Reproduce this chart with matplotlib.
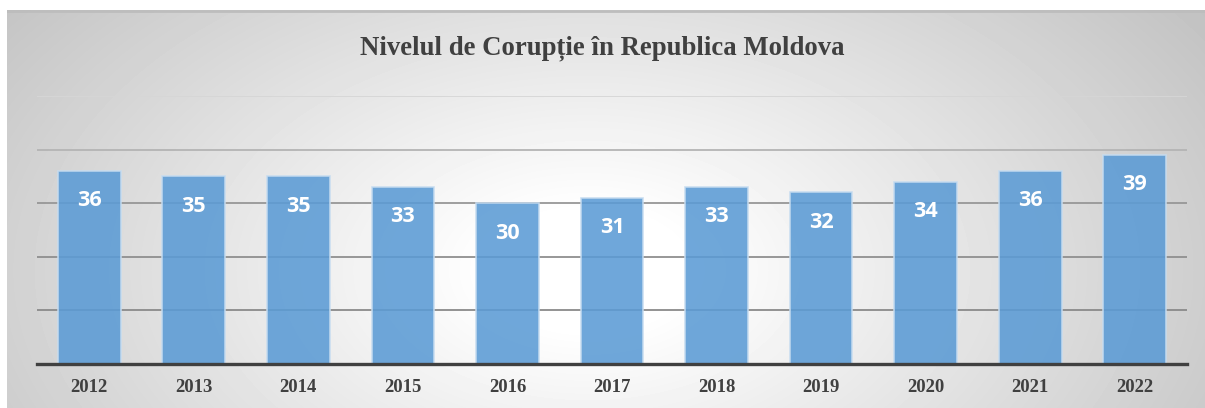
import matplotlib.pyplot as plt
import numpy as np

years = ['2012', '2013', '2014', '2015', '2016', '2017', '2018', '2019', '2020', '2021', '2022']
scores = [36, 35, 35, 33, 30, 31, 33, 32, 34, 36, 39]
title = 'Nivelul de Corupție în Republica Moldova'

W, H = 1205, 408
fig = plt.figure(figsize=(W / 100, H / 100), dpi=100)
fig.patch.set_facecolor('white')

# gray radial gradient panel behind the chart
bg = fig.add_axes([7 / W, 0, 1 - 7 / W, (H - 10) / H], zorder=0)
yy, xx = np.mgrid[0:398, 0:1198]
r = np.sqrt(((xx - 580) / 640.0) ** 2 + ((yy - 260) / 390.0) ** 2)
shade = 255 - 60 * np.clip(r - 0.15, 0, None)
shade = np.clip(shade, 188, 255) / 255.0
bg.imshow(shade, cmap='gray', vmin=0, vmax=1, aspect='auto', interpolation='bilinear')
bg.axhline(0, color='#bdbdbd', lw=2)
bg.set_axis_off()

ax = fig.add_axes([37 / W, 44 / H, 1150 / W, 268 / H], zorder=1)
ax.patch.set_alpha(0)

x = np.arange(len(years))
grid_colors = {10: '#8a8a8a', 20: '#8f8f8f', 30: '#979797', 40: '#b4b4b4', 50: '#d6d6d6'}
for v, c in grid_colors.items():
    ax.axhline(v, color=c, lw=1.3, zorder=1)

bars = ax.bar(x, scores, width=0.6, color='#5b9bd5', alpha=0.88,
              edgecolor='#c6dcf0', linewidth=1.2, zorder=2)

for xi, v in zip(x, scores):
    ax.annotate(str(v), (xi, v), xytext=(0, -21.5), textcoords='offset points',
                ha='center', va='center', color='white', fontsize=15.5,
                fontweight='bold', family='Open Sans', zorder=3)

ax.set_xlim(-0.5, len(years) - 0.5)
ax.set_ylim(0, 50)
ax.set_xticks(x)
ax.set_xticklabels(years, fontsize=13.5, fontweight='bold', family='Liberation Serif',
                   color='#404040')
ax.tick_params(axis='x', length=0, pad=11)
ax.set_yticks([])
for s in ['top', 'right', 'left']:
    ax.spines[s].set_visible(False)
ax.spines['bottom'].set_color('#404040')
ax.spines['bottom'].set_linewidth(2.4)
ax.spines['bottom'].set_zorder(4)

fig.text(0.5, (H - 48) / H, title, ha='center', va='center', fontsize=19.3,
         fontweight='bold', family='Liberation Serif', color='#404040')

fig.savefig('out.png', dpi=100)
